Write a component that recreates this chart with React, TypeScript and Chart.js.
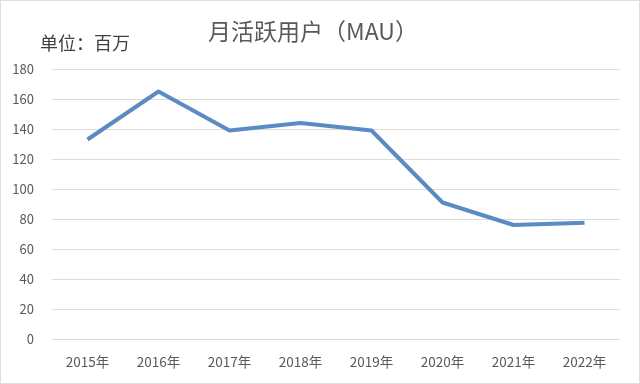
import React, { useEffect, useRef } from "react";
import { Chart, registerables } from "chart.js";

Chart.register(...registerables);

const years = ["2015年", "2016年", "2017年", "2018年", "2019年", "2020年", "2021年", "2022年"];
const mau = [133, 165, 139, 144, 139, 91, 76, 77.5];
const titleText = "月活跃用户（MAU）";
const unitText = "单位：百万";

const FONT = "'Noto Sans CJK SC', 'Noto Sans', sans-serif";

export default function App() {
  const ref = useRef<HTMLCanvasElement | null>(null);

  useEffect(() => {
    document.body.style.margin = "0";
    const textPlugin = {
      id: "textPlugin",
      afterDraw(chart: any) {
        const ctx = chart.ctx;
        ctx.save();
        ctx.textBaseline = "middle";
        ctx.fillStyle = "#595959";
        ctx.font = `23px ${FONT}`;
        ctx.textAlign = "center";
        ctx.fillText(titleText, 312, 30);
        ctx.fillStyle = "#404040";
        ctx.font = `18px ${FONT}`;
        ctx.textAlign = "left";
        ctx.fillText(unitText, 39, 42);
        ctx.restore();
      },
    };
    const chart = new Chart(ref.current!, {
      type: "line",
      data: {
        labels: years,
        datasets: [
          {
            data: mau,
            borderColor: "#5a8cc3",
            backgroundColor: "#5a8cc3",
            borderWidth: 4,
            pointRadius: 0,
            tension: 0,
            borderJoinStyle: "round",
            borderCapStyle: "butt",
          },
        ],
      },
      options: {
        animation: false,
        responsive: false,
        layout: { padding: { top: 68, right: 19, left: 0, bottom: 0 } },
        plugins: { legend: { display: false }, title: { display: false }, tooltip: { enabled: false } },
        scales: {
          x: {
            offset: true,
            grid: { display: false, drawTicks: false },
            border: { display: false },
            ticks: { color: "#595959", font: { family: FONT, size: 13.5 }, padding: 15, maxRotation: 0 },
            afterFit(scale: any) {
              scale.height = 44;
            },
          },
          y: {
            min: 0,
            max: 180,
            ticks: { stepSize: 20, color: "#595959", font: { family: FONT, size: 13 }, padding: 18 },
            grid: { color: "#dcdcdc", lineWidth: 1, drawTicks: false },
            border: { display: false },
            afterFit(scale: any) {
              scale.width = 51;
            },
          },
        },
      },
      plugins: [textPlugin],
    });
    return () => chart.destroy();
  }, []);

  return (
    <div
      style={{
        position: "fixed",
        left: 0,
        top: 0,
        width: 640,
        height: 384,
        boxSizing: "border-box",
        border: "1px solid #dedede",
        background: "#fff",
        overflow: "hidden",
      }}
    >
      <canvas ref={ref} width={638} height={382} style={{ display: "block" }} />
    </div>
  );
}
